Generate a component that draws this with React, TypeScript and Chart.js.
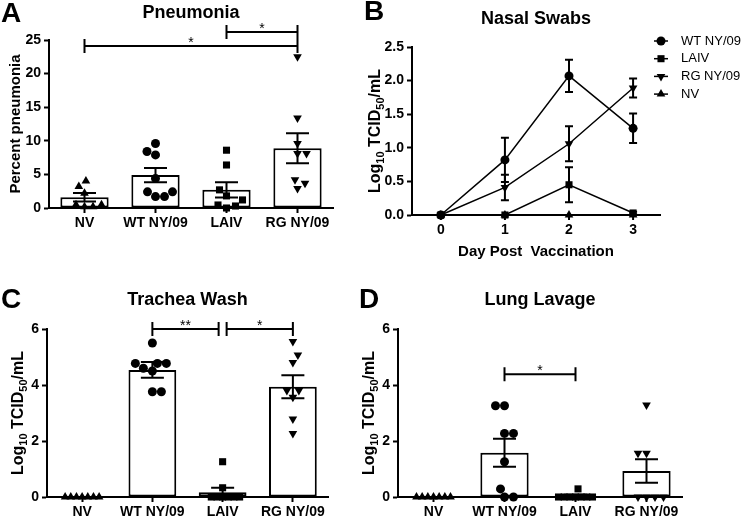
import React, { useEffect, useRef } from 'react';
import { Chart, registerables } from 'chart.js';

Chart.register(...registerables);

const FONT = '"Liberation Sans", Arial, Helvetica, sans-serif';
Chart.defaults.font.family = FONT;

// ---------- DATA ----------
const groupLabels = ['NV', 'WT NY/09', 'LAIV', 'RG NY/09'];

// A: Pneumonia (percent)
const pneumoniaNV = [4.0, 3.2, 2.2, 0.5, 0.2, 0.2, 0.5];
const pneumoniaWT = [9.6, 8.4, 7.9, 4.4, 2.4, 1.7, 1.7, 2.4];
const pneumoniaLAIV = [8.6, 6.4, 2.7, 1.8, 1.2, 0.45, 0.0, 0.3];
const pneumoniaRG = [22.5, 13.4, 9.6, 8.1, 8.1, 4.2, 2.9, 3.7];
const pneumoniaMean = [1.6, 4.9, 2.7, 8.9];
const pneumoniaSEM = [0.63, 1.05, 1.13, 2.24];
const pneumoniaTicks = [0, 5, 10, 15, 20, 25];
const pneumoniaBrackets = [
  { from: 0, to: 3, y: 24.1, label: '*' },
  { from: 2, to: 3, y: 26.2, label: '*' },
];

// B: Nasal swabs (log10 TCID50/mL)
const days = [0, 1, 2, 3];
const dayLabels = ['0', '1', '2', '3'];
const nasalWT = [0, 0.82, 2.07, 1.29];
const nasalWTSem = [0, 0.33, 0.24, 0.22];
const nasalLAIV = [0, 0, 0.45, 0.03];
const nasalLAIVSem = [0, 0, 0.26, 0.02];
const nasalRG = [0, 0.41, 1.06, 1.89];
const nasalRGSem = [0, 0.19, 0.26, 0.14];
const nasalNV = [0, 0, 0, 0];
const nasalNVSem = [0, 0, 0, 0];
const nasalTicks = [0, 0.5, 1.0, 1.5, 2.0, 2.5];

// C: Trachea wash
const tracheaNV = [0, 0, 0, 0, 0, 0, 0];
const tracheaWT = [5.5, 4.77, 4.77, 4.77, 4.6, 4.5, 3.76, 3.76];
const tracheaLAIV = [1.26, 0.33, 0, 0, 0, 0, 0, 0];
const tracheaRG = [5.55, 5.07, 4.8, 3.8, 3.56, 3.8, 2.79, 2.27];
const tracheaMean = [0, 4.54, 0.17, 3.94];
const tracheaSEM = [0, 0.28, 0.16, 0.41];
const tracheaBrackets = [
  { from: 1, to: 2, y: 6.0, label: '**' },
  { from: 2, to: 3, y: 6.0, label: '*' },
];

// D: Lung lavage
const lavageNV = [0, 0, 0, 0, 0, 0, 0];
const lavageWT = [3.26, 3.26, 2.27, 2.27, 1.26, 0.29, 0, 0];
const lavageLAIV = [0.29, 0, 0, 0, 0, 0, 0, 0];
const lavageRG = [3.29, 1.56, 1.56, 0, 0, 0, 0];
const lavageMean = [0, 1.58, 0.04, 0.93];
const lavageSEM = [0, 0.5, 0.04, 0.42];
const lavageBrackets = [{ from: 1, to: 2, y: 4.38, label: '*' }];

const titerTicks = [0, 2, 4, 6];

// ---------- STYLE HELPERS ----------
type Marker = { pointStyle: string; rotation: number; radius: number };
const MARKERS: Marker[] = [
  { pointStyle: 'triangle', rotation: 0, radius: 5 },
  { pointStyle: 'circle', rotation: 0, radius: 4.5 },
  { pointStyle: 'rect', rotation: 0, radius: 5 },
  { pointStyle: 'triangle', rotation: 180, radius: 5 },
];

const logTitle = [
  { t: 'Log' },
  { t: '10', sub: true },
  { t: ' TCID' },
  { t: '50', sub: true },
  { t: '/mL' },
];

function drawRich(ctx: CanvasRenderingContext2D, parts: { t: string; sub?: boolean }[], cx: number, cy: number, rotate: boolean, size: number) {
  ctx.save();
  ctx.translate(cx, cy);
  if (rotate) ctx.rotate(-Math.PI / 2);
  const big = `bold ${size}px ${FONT}`;
  const small = `bold ${Math.round(size * 0.68)}px ${FONT}`;
  let total = 0;
  const widths = parts.map((p) => {
    ctx.font = p.sub ? small : big;
    const w = ctx.measureText(p.t).width;
    total += w;
    return w;
  });
  let x = -total / 2;
  ctx.textBaseline = 'alphabetic';
  ctx.textAlign = 'left';
  ctx.fillStyle = '#000';
  parts.forEach((p, i) => {
    ctx.font = p.sub ? small : big;
    ctx.fillText(p.t, x, size * 0.36 + (p.sub ? size * 0.28 : 0));
    x += widths[i];
  });
  ctx.restore();
}

function drawMarker(ctx: CanvasRenderingContext2D, m: Marker, x: number, y: number) {
  ctx.beginPath();
  const r = m.radius;
  if (m.pointStyle === 'circle') {
    ctx.arc(x, y, r, 0, Math.PI * 2);
  } else if (m.pointStyle === 'rect') {
    const s = r * Math.SQRT1_2;
    ctx.rect(x - s, y - s, 2 * s, 2 * s);
  } else {
    const dir = m.rotation === 180 ? -1 : 1;
    ctx.moveTo(x, y - dir * r);
    ctx.lineTo(x + 0.866 * r, y + dir * 0.5 * r);
    ctx.lineTo(x - 0.866 * r, y + dir * 0.5 * r);
    ctx.closePath();
  }
  ctx.fill();
}

// horizontal spread of the dots inside a column (beeswarm), returned in category units
function swarmOffsets(values: number[], pxPerUnit: number, catPx: number): number[] {
  const D = 9;
  const HALF = 17;
  const idx = values.map((_, i) => i).sort((a, b) => values[a] - values[b]);
  const placed: { x: number; y: number }[] = [];
  const out = new Array(values.length).fill(0);
  let flip = 1;
  for (const i of idx) {
    const y = values[i] * pxPerUnit;
    let chosen = 0;
    let found = false;
    for (let s = 0; s < 200 && !found; s += 0.5) {
      const cands = s === 0 ? [0] : [flip * s, -flip * s];
      for (const c of cands) {
        if (placed.every((p) => (p.x - c) ** 2 + (p.y - y) ** 2 >= D * D)) {
          chosen = c;
          found = true;
          break;
        }
      }
    }
    if (chosen !== 0) flip = -flip;
    placed.push({ x: chosen, y });
    out[i] = chosen;
  }
  const maxAbs = Math.max(0, ...out.map((o) => Math.abs(o)));
  const k = maxAbs > HALF ? HALF / maxAbs : 1;
  return out.map((o) => (o * k) / catPx);
}

type Bracket = { from: number; to: number; y: number; label: string };

type BarPanel = {
  letter: string;
  title: string;
  groups: number[][];
  means: number[];
  sems: number[];
  ticks: number[];
  yMax: number;
  brackets: Bracket[];
  yTitle: { t: string; sub?: boolean }[];
  yTitleSize: number;
  W: number;
  H: number;
  area: { left: number; top: number; right: number; bottom: number };
  titleY: number;
  letterX: number;
  letterY: number;
  yTitleX: number;
};

const axisCommon = {
  grid: { display: true, drawOnChartArea: false, drawTicks: true, tickLength: 5, tickWidth: 2, tickColor: '#000', offset: false },
  border: { display: true, color: '#000', width: 2 },
};

function barConfig(p: BarPanel): any {
  const plotH = p.area.bottom - p.area.top;
  const catPx = (p.area.right - p.area.left) / groupLabels.length;
  const pxPerUnit = plotH / p.yMax;
  const scatterSets = p.groups.map((vals, gi) => {
    const offs = swarmOffsets(vals, pxPerUnit, catPx);
    const m = MARKERS[gi];
    return {
      type: 'scatter',
      data: vals.map((v, k) => ({ x: gi + offs[k], y: v })),
      pointStyle: m.pointStyle,
      pointRotation: m.rotation,
      pointRadius: m.radius,
      pointBackgroundColor: '#000',
      pointBorderColor: '#000',
      pointBorderWidth: 0,
      clip: false,
      order: 1,
    };
  });
  const plugin = {
    id: 'panel' + p.letter,
    afterDatasetsDraw(chart: any) {
      const ctx: CanvasRenderingContext2D = chart.ctx;
      const xs = chart.scales.x;
      const ys = chart.scales.y;
      ctx.save();
      ctx.strokeStyle = '#000';
      ctx.fillStyle = '#000';
      ctx.lineWidth = 2;
      ctx.lineCap = 'butt';
      p.means.forEach((m, i) => {
        const s = p.sems[i];
        if (!s) return;
        const cx = xs.getPixelForValue(i);
        const yt = ys.getPixelForValue(m + s);
        const yb = ys.getPixelForValue(Math.max(0, m - s));
        ctx.beginPath();
        ctx.moveTo(cx, yt);
        ctx.lineTo(cx, yb);
        ctx.moveTo(cx - 11.5, yt);
        ctx.lineTo(cx + 11.5, yt);
        ctx.moveTo(cx - 11.5, yb);
        ctx.lineTo(cx + 11.5, yb);
        ctx.stroke();
      });
      p.brackets.forEach((b, bi) => {
        let x1 = xs.getPixelForValue(b.from);
        let x2 = xs.getPixelForValue(b.to);
        p.brackets.forEach((o, oi) => {
          if (oi === bi || o.y !== b.y) return;
          if (o.from === b.to) x2 -= 4;
          if (o.to === b.from) x1 += 4;
        });
        const y = ys.getPixelForValue(b.y);
        ctx.beginPath();
        ctx.moveTo(x1, y);
        ctx.lineTo(x2, y);
        ctx.moveTo(x1, y - 7);
        ctx.lineTo(x1, y + 7);
        ctx.moveTo(x2, y - 7);
        ctx.lineTo(x2, y + 7);
        ctx.stroke();
        ctx.font = `14px ${FONT}`;
        ctx.textAlign = 'center';
        ctx.textBaseline = 'alphabetic';
        ctx.fillText(b.label, (x1 + x2) / 2, y + 1);
      });
      ctx.restore();
    },
    afterDraw(chart: any) {
      const ctx: CanvasRenderingContext2D = chart.ctx;
      const a = chart.chartArea;
      ctx.save();
      ctx.fillStyle = '#000';
      ctx.font = `bold 18px ${FONT}`;
      ctx.textAlign = 'center';
      ctx.textBaseline = 'middle';
      ctx.fillText(p.title, (a.left + a.right) / 2, p.titleY);
      ctx.font = `bold 28px ${FONT}`;
      ctx.textAlign = 'left';
      ctx.textBaseline = 'alphabetic';
      ctx.fillText(p.letter, p.letterX, p.letterY);
      ctx.restore();
      drawRich(ctx, p.yTitle, p.yTitleX, (a.top + a.bottom) / 2, true, p.yTitleSize);
    },
  };
  return {
    type: 'bar',
    data: {
      datasets: [
        ...scatterSets,
        {
          type: 'bar',
          data: p.means.map((m, i) => ({ x: i, y: m })),
          backgroundColor: '#fff',
          borderColor: '#000',
          borderWidth: 2,
          borderSkipped: false,
          barPercentage: 0.68,
          categoryPercentage: 1,
          order: 2,
        },
      ],
    },
    options: {
      responsive: false,
      animation: false,
      devicePixelRatio: 1,
      events: [],
      layout: { padding: { left: 0, top: p.area.top, right: p.W - p.area.right, bottom: 0 } },
      plugins: { legend: { display: false }, title: { display: false }, tooltip: { enabled: false } },
      scales: {
        x: {
          type: 'linear',
          min: -0.5,
          max: 3.5,
          offset: false,
          ...axisCommon,
          afterBuildTicks: (s: any) => {
            s.ticks = groupLabels.map((_, i) => ({ value: i }));
          },
          ticks: {
            color: '#000',
            font: { size: 14, weight: 'bold' },
            padding: 2,
            maxRotation: 0,
            autoSkip: false,
            callback: (v: any) => groupLabels[Math.round(Number(v))] ?? '',
          },
          afterFit: (s: any) => {
            s.height = p.H - p.area.bottom;
          },
        },
        y: {
          type: 'linear',
          min: 0,
          max: p.yMax,
          offset: false,
          ...axisCommon,
          afterBuildTicks: (s: any) => {
            s.ticks = p.ticks.map((v) => ({ value: v }));
          },
          ticks: { color: '#000', font: { size: 14, weight: 'bold' }, padding: 3 },
          afterFit: (s: any) => {
            s.width = p.area.left;
          },
        },
      },
    },
    plugins: [plugin],
  };
}

// ---------- PANEL B ----------
function nasalConfig(): any {
  const W = 390;
  const H = 260;
  const area = { left: 52, top: 47, right: 300, bottom: 215 };
  const series = [
    { label: 'WT NY/09', values: nasalWT, sems: nasalWTSem, marker: MARKERS[1] },
    { label: 'LAIV', values: nasalLAIV, sems: nasalLAIVSem, marker: MARKERS[2] },
    { label: 'RG NY/09', values: nasalRG, sems: nasalRGSem, marker: MARKERS[3] },
    { label: 'NV', values: nasalNV, sems: nasalNVSem, marker: MARKERS[0] },
  ];
  const plugin = {
    id: 'panelB',
    afterDatasetsDraw(chart: any) {
      const ctx: CanvasRenderingContext2D = chart.ctx;
      const xs = chart.scales.x;
      const ys = chart.scales.y;
      ctx.save();
      ctx.strokeStyle = '#000';
      ctx.lineWidth = 2;
      series.forEach((s) => {
        s.values.forEach((v, i) => {
          const e = s.sems[i];
          if (!e) return;
          const cx = xs.getPixelForValue(days[i]);
          const yt = ys.getPixelForValue(v + e);
          const yb = ys.getPixelForValue(Math.max(0, v - e));
          ctx.beginPath();
          ctx.moveTo(cx, yt);
          ctx.lineTo(cx, yb);
          ctx.moveTo(cx - 4, yt);
          ctx.lineTo(cx + 4, yt);
          ctx.moveTo(cx - 4, yb);
          ctx.lineTo(cx + 4, yb);
          ctx.stroke();
        });
      });
      ctx.restore();
    },
    afterDraw(chart: any) {
      const ctx: CanvasRenderingContext2D = chart.ctx;
      const a = chart.chartArea;
      const xs = chart.scales.x;
      ctx.save();
      ctx.fillStyle = '#000';
      ctx.strokeStyle = '#000';
      // day tick labels and tick marks, placed through the x scale
      ctx.font = `bold 14px ${FONT}`;
      ctx.textAlign = 'center';
      ctx.textBaseline = 'middle';
      ctx.lineWidth = 2;
      days.forEach((d, i) => {
        const px = xs.getPixelForValue(d);
        ctx.beginPath();
        ctx.moveTo(px, a.bottom);
        ctx.lineTo(px, a.bottom + 5);
        ctx.stroke();
        ctx.fillText(dayLabels[i], px, a.bottom + 15);
      });
      ctx.font = `bold 18px ${FONT}`;
      ctx.fillText('Nasal Swabs', (a.left + a.right) / 2, 19);
      ctx.font = `bold 15px ${FONT}`;
      ctx.fillText('Day Post  Vaccination', (a.left + a.right) / 2, 252);
      ctx.font = `bold 28px ${FONT}`;
      ctx.textAlign = 'left';
      ctx.textBaseline = 'alphabetic';
      ctx.fillText('B', 4, 20);
      series.forEach((s, i) => {
        const y = 41 + i * 17.7;
        const x0 = a.right - 6;
        ctx.lineWidth = 1.5;
        ctx.beginPath();
        ctx.moveTo(x0, y);
        ctx.lineTo(x0 + 14, y);
        ctx.stroke();
        drawMarker(ctx, s.marker, x0 + 7, y);
        ctx.font = `13px ${FONT}`;
        ctx.textBaseline = 'middle';
        ctx.fillText(s.label, a.right + 21, y);
      });
      ctx.restore();
      drawRich(ctx, logTitle, 14, (a.top + a.bottom) / 2, true, 16);
    },
  };
  return {
    type: 'line',
    data: {
      datasets: series.map((s) => ({
        label: s.label,
        data: days.map((d, i) => ({ x: d, y: s.values[i] })),
        borderColor: '#000',
        backgroundColor: '#000',
        borderWidth: 1.5,
        pointStyle: s.marker.pointStyle,
        pointRotation: s.marker.rotation,
        pointRadius: s.marker.radius,
        pointBackgroundColor: '#000',
        pointBorderWidth: 0,
        tension: 0,
        clip: false,
      })),
    },
    options: {
      responsive: false,
      animation: false,
      devicePixelRatio: 1,
      events: [],
      layout: { padding: { left: 0, top: area.top, right: W - area.right, bottom: 0 } },
      plugins: { legend: { display: false }, title: { display: false }, tooltip: { enabled: false } },
      scales: {
        x: {
          type: 'linear',
          min: -0.45,
          max: 3.42,
          border: axisCommon.border,
          grid: { display: false },
          ticks: { display: false },
          afterFit: (s: any) => {
            s.height = H - area.bottom;
          },
        },
        y: {
          type: 'linear',
          min: 0,
          max: 2.5,
          ...axisCommon,
          afterBuildTicks: (s: any) => {
            s.ticks = nasalTicks.map((v) => ({ value: v }));
          },
          ticks: { color: '#000', font: { size: 14, weight: 'bold' }, padding: 3, callback: (v: any) => Number(v).toFixed(1) },
          afterFit: (s: any) => {
            s.width = area.left;
          },
        },
      },
    },
    plugins: [plugin],
  };
}

const panelA: BarPanel = {
  letter: 'A',
  title: 'Pneumonia',
  groups: [pneumoniaNV, pneumoniaWT, pneumoniaLAIV, pneumoniaRG],
  means: pneumoniaMean,
  sems: pneumoniaSEM,
  ticks: pneumoniaTicks,
  yMax: 25,
  brackets: pneumoniaBrackets,
  yTitle: [{ t: 'Percent pneumonia' }],
  yTitleSize: 15,
  W: 360,
  H: 255,
  area: { left: 49, top: 40, right: 333, bottom: 208 },
  titleY: 13,
  letterX: 1,
  letterY: 22,
  yTitleX: 15,
};

const panelC: BarPanel = {
  letter: 'C',
  title: 'Trachea Wash',
  groups: [tracheaNV, tracheaWT, tracheaLAIV, tracheaRG],
  means: tracheaMean,
  sems: tracheaSEM,
  ticks: titerTicks,
  yMax: 6,
  brackets: tracheaBrackets,
  yTitle: logTitle,
  yTitleSize: 16,
  W: 355,
  H: 257,
  area: { left: 47, top: 69, right: 328, bottom: 237 },
  titleY: 40,
  letterX: 1,
  letterY: 48,
  yTitleX: 17,
};

const panelD: BarPanel = {
  letter: 'D',
  title: 'Lung Lavage',
  groups: [lavageNV, lavageWT, lavageLAIV, lavageRG],
  means: lavageMean,
  sems: lavageSEM,
  ticks: titerTicks,
  yMax: 6,
  brackets: lavageBrackets,
  yTitle: logTitle,
  yTitleSize: 16,
  W: 395,
  H: 257,
  area: { left: 43, top: 69, right: 327, bottom: 237 },
  titleY: 40,
  letterX: 4,
  letterY: 48,
  yTitleX: 13,
};

function ChartCanvas(props: { left: number; top: number; width: number; height: number; build: () => any }) {
  const ref = useRef<HTMLCanvasElement | null>(null);
  useEffect(() => {
    const chart = new Chart(ref.current as HTMLCanvasElement, props.build());
    return () => chart.destroy();
  }, []);
  return (
    <canvas
      ref={ref}
      width={props.width}
      height={props.height}
      style={{ position: 'absolute', left: props.left, top: props.top, width: props.width, height: props.height }}
    />
  );
}

export default function App() {
  return (
    <div style={{ position: 'fixed', left: 0, top: 0, width: 750, height: 517, background: '#fff', overflow: 'hidden' }}>
      <ChartCanvas left={0} top={0} width={360} height={255} build={() => barConfig(panelA)} />
      <ChartCanvas left={360} top={0} width={390} height={260} build={() => nasalConfig()} />
      <ChartCanvas left={0} top={260} width={355} height={257} build={() => barConfig(panelC)} />
      <ChartCanvas left={355} top={260} width={395} height={257} build={() => barConfig(panelD)} />
    </div>
  );
}
